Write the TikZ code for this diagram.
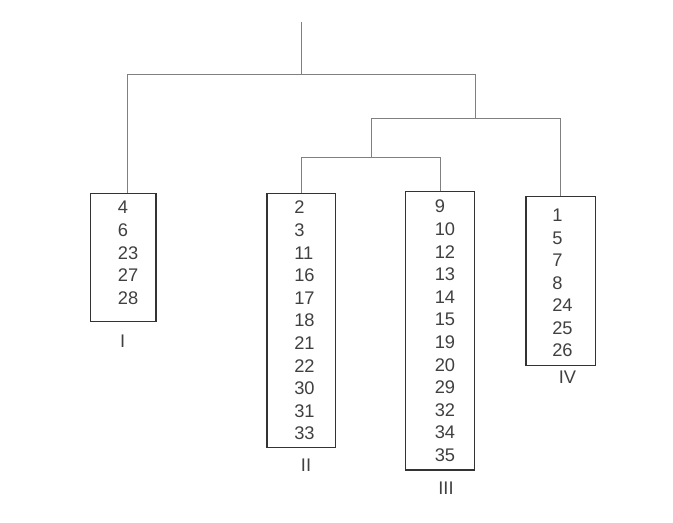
\documentclass[tikz,border=0pt]{standalone}
\usepackage{fontspec}
\setmainfont{Liberation Sans}
\tikzset{
  branch/.style={draw=black!50, line width=0.6pt},
  clusterbox/.style={draw=black!80, line width=0.8pt, inner sep=0pt},
  member/.style={anchor=base west, inner sep=0pt, text=black!75, font=\fontsize{13}{15}\selectfont},
  clusterlabel/.style={anchor=base, inner sep=0pt, text=black!75, font=\fontsize{13}{15}\selectfont}
}

\begin{document}
\begin{tikzpicture}[x=0.025cm, y=-0.025cm]
\useasboundingbox (0,0) rectangle (673,523);
\node[clusterbox, minimum width=1.6325cm, minimum height=3.21cm] (I) at (123.35,257.5) {};
\node[clusterbox, minimum width=1.7075cm, minimum height=6.36cm] (II) at (301.15,320.5) {};
\node[clusterbox, minimum width=1.715cm, minimum height=6.9575cm] (III) at (440,330.85) {};
\node[clusterbox, minimum width=1.7425cm, minimum height=4.215cm] (IV) at (560.85,281) {};
\foreach \n [count=\i] in {4,6,23,27,28}
  \node[member] (I-\i) at (117.7, 214+22.6*\i-22.6) {\n};
\foreach \n [count=\i] in {2,3,11,16,17,18,21,22,30,31,33}
  \node[member] (II-\i) at (294, 214+22.6*\i-22.6) {\n};
\foreach \n [count=\i] in {9,10,12,13,14,15,19,20,29,32,34,35}
  \node[member] (III-\i) at (434.5, 213+22.6*\i-22.6) {\n};
\foreach \n [count=\i] in {1,5,7,8,24,25,26}
  \node[member] (IV-\i) at (552, 222+22.5*\i-22.5) {\n};
\node[clusterlabel] (I-label) at (122.7,348) {I};
\node[clusterlabel] (II-label) at (306,472) {II};
\node[clusterlabel] (III-label) at (446,495) {III};
\node[clusterlabel] (IV-label) at (567.5,384) {IV};
\coordinate (top) at (301,21.7);
\coordinate (j1) at (301,74);
\coordinate (j2) at (475,118);
\coordinate (j3) at (371,157.5);
\draw[branch] (top) -- (j1);
\draw[branch] ([xshift=3pt]I.north) |- (j1);
\draw[branch] (j2) |- (j1);
\draw[branch] (j3) |- (j2);
\draw[branch] (IV.north) |- (j2);
\draw[branch] (II.north) |- (j3);
\draw[branch] (III.north) |- (j3);
\end{tikzpicture}
\end{document}
